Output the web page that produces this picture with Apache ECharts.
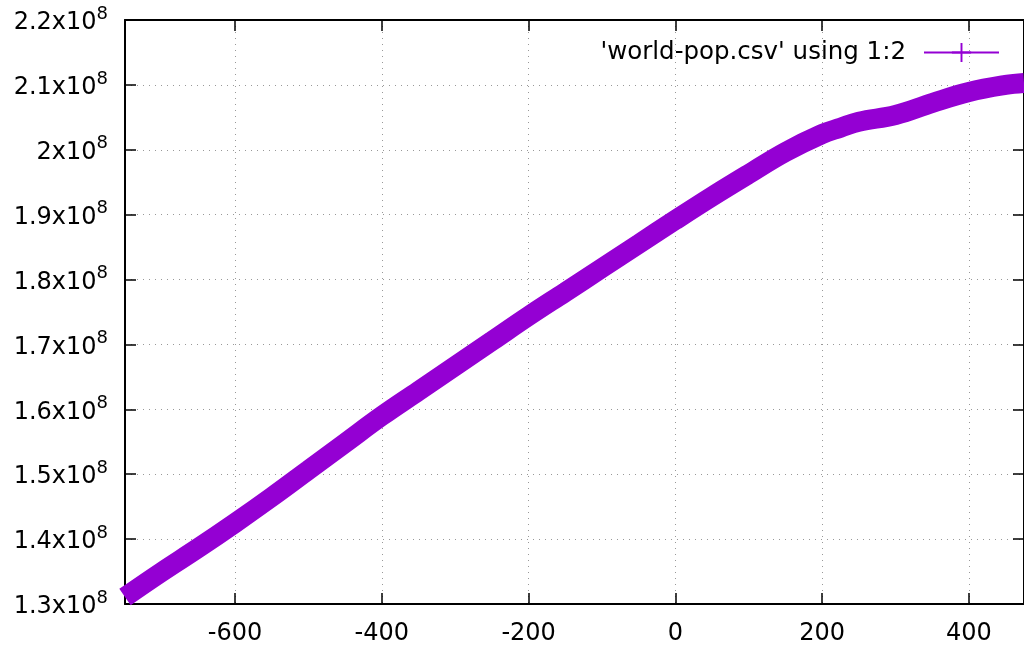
<!DOCTYPE html>
<html>
<head>
<meta charset="utf-8">
<script src="https://cdn.jsdelivr.net/npm/echarts@6/dist/echarts.min.js"></script>
<style>
html,body{margin:0;padding:0;background:#fff;}
#chart{width:1024px;height:647px;}
</style>
</head>
<body>
<div id="chart"></div>
<script>
// Year values (x) and world population (y)
const years = [-750,-700,-650,-600,-550,-500,-450,-400,-350,-300,-250,-200,-150,-100,-50,0,50,100,150,200,225,250,300,350,400,450,475];
const population = [131080000,134940000,138640000,142490000,146490000,150650000,154820000,158980000,162830000,166680000,170530000,174390000,178080000,181780000,185480000,189180000,192800000,196270000,199660000,202430000,203400000,204330000,205360000,207210000,208900000,210000000,210300000];
const xTicks = [-600,-400,-200,0,200,400];
const legendName = "'world-pop.csv' using 1:2";

const FONT = 'DejaVu Sans';
const color = '#9400d3';
const crossPath = 'path://M9,0 L11,0 L11,9 L20,9 L20,11 L11,11 L11,20 L9,20 L9,11 L0,11 L0,9 L9,9 Z';

const chart = echarts.init(document.getElementById('chart'), null, {renderer: 'canvas'});

const axisLine = {show: true, onZero: false, lineStyle: {color: '#000', width: 2}};
const tickStyle = {show: true, inside: true, length: 11, lineStyle: {color: '#000', width: 1.5}};
const gridLine = {show: true, lineStyle: {color: '#999', width: 1, type: [1, 5]}};

const data = years.map((y, i) => [y, population[i]]);

chart.setOption({
  animation: false,
  backgroundColor: '#fff',
  textStyle: {fontFamily: FONT},
  grid: {left: 125, top: 20, right: -5, bottom: 43, containLabel: false},
  legend: {
    show: true,
    data: [legendName],
    right: 19,
    top: 35,
    align: 'right',
    itemWidth: 75,
    itemHeight: 24,
    lineStyle: {width: 2},
    textStyle: {fontFamily: FONT, fontSize: 24.5, color: '#000', padding: [0, 13, 0, 0]},
    selectedMode: false
  },
  xAxis: [
    {
      type: 'value', position: 'bottom', min: -750, max: 475,
      axisLine: axisLine,
      axisTick: Object.assign({customValues: xTicks}, tickStyle),
      axisLabel: {customValues: xTicks, color: '#000', fontSize: 24, fontFamily: FONT, margin: 18},
      splitLine: gridLine
    },
    {
      type: 'value', position: 'top', min: -750, max: 475,
      axisLine: axisLine,
      axisTick: Object.assign({customValues: xTicks}, tickStyle),
      axisLabel: {show: false},
      splitLine: {show: false}
    }
  ],
  yAxis: [
    {
      type: 'value', position: 'left', min: 130000000, max: 220000000, interval: 10000000,
      axisLine: axisLine,
      axisTick: tickStyle,
      axisLabel: {
        color: '#000', margin: 17,
        formatter: v => '{b|' + parseFloat((v / 1e8).toFixed(1)) + 'x10}{sup|8}',
        fontSize: 24, fontFamily: FONT,
        rich: {
          b: {fontSize: 24, fontFamily: FONT, color: '#000', verticalAlign: 'bottom', lineHeight: 30},
          sup: {fontSize: 18, fontFamily: FONT, color: '#000', verticalAlign: 'top', lineHeight: 18}
        }
      },
      splitLine: gridLine
    },
    {
      type: 'value', position: 'right', min: 130000000, max: 220000000, interval: 10000000,
      axisLine: axisLine,
      axisTick: tickStyle,
      axisLabel: {show: false},
      splitLine: {show: false}
    }
  ],
  series: [
    {
      name: legendName,
      type: 'line',
      xAxisIndex: 0,
      yAxisIndex: 0,
      data: data,
      smooth: 0.4,
      symbol: crossPath,
      showSymbol: false,
      itemStyle: {color: color},
      lineStyle: {color: color, width: 20, cap: 'butt'},
      clip: true
    }
  ]
});
</script>
</body>
</html>
